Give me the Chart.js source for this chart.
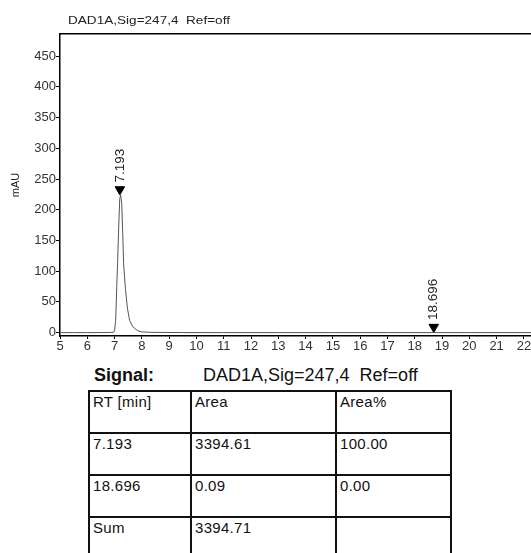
<!DOCTYPE html>
<html>
<head>
<meta charset="utf-8">
<script src="https://cdn.jsdelivr.net/npm/chart.js@4.4.0/dist/chart.umd.min.js"></script>
<style>
    html, body { margin: 0; padding: 0; background: #fff; width: 531px; height: 553px; overflow: hidden; font-family: "Liberation Sans", Arial, sans-serif; }
    #wrap { position: absolute; left: 0; top: 0; width: 531px; height: 360px; }
    #title { position: absolute; left: 68px; top: 14px; font-size: 11.5px; color: #222; white-space: pre; transform: scaleX(1.18); transform-origin: left top; }
    #signal { position: absolute; left: 94px; top: 365px; font-size: 18px; color: #111; white-space: pre; }
    #signal b { display: inline-block; width: 109px; }
    #tbl { position: absolute; left: 88px; top: 390px; border-collapse: collapse; font-size: 15px; letter-spacing: 0.3px; color: #111; }
    #tbl td { border: 2px solid #111; height: 42px; vertical-align: top; padding: 1px 3px; box-sizing: border-box; }
</style>
</head>
<body>
<div id="wrap"><canvas id="chrom"></canvas></div>
<div id="title"></div>
<div id="signal"></div>
<table id="tbl"></table>
<script>
const signalName = "DAD1A,Sig=247,4  Ref=off";
const yTitle = "mAU";

// chromatogram trace (time in min, absorbance in mAU)
const traceTime = [5, 5.5, 6, 6.5, 6.9, 6.97, 7.0, 7.04, 7.08, 7.11, 7.15, 7.19, 7.22, 7.26, 7.3, 7.33, 7.4, 7.47, 7.55, 7.65, 7.73, 7.85, 8.0, 8.3, 8.7, 9.5, 11, 13, 15, 17, 18.6, 18.7, 18.8, 20, 22.3];
const traceMAU  = [0, 0, 0, 0.1, 0.3, 0.8, 3, 20, 75, 113, 170, 218, 224, 212, 160, 113, 70, 40, 20, 11, 7, 3, 1.2, 0.5, 0.3, 0.1, 0, 0, 0, 0, 0, 0.15, 0, 0, 0];

// integrated peaks
const peakRT     = [7.193, 18.696];
const peakMarkY  = [233, 9];
const peakLabels = ["7.193", "18.696"];

// axis ticks
const xTicks = [5, 6, 7, 8, 9, 10, 11, 12, 13, 14, 15, 16, 17, 18, 19, 20, 21, 22];
const yTicks = [0, 50, 100, 150, 200, 250, 300, 350, 400, 450];

// report table
const tableHead = ["RT [min]", "Area", "Area%"];
const tableRT   = ["7.193", "18.696", "Sum"];
const tableArea = ["3394.61", "0.09", "3394.71"];
const tablePct  = ["100.00", "0.00", ""];

document.getElementById('title').innerText = signalName;
document.getElementById('signal').innerHTML = "<b>Signal:</b>" + signalName;

const tbl = document.getElementById('tbl');
const colW = [102, 145, 115];
function addRow(cells) {
    const tr = document.createElement('tr');
    cells.forEach((c, i) => {
        const td = document.createElement('td');
        td.style.width = colW[i] + 'px';
        td.innerText = c;
        tr.appendChild(td);
    });
    tbl.appendChild(tr);
}
addRow(tableHead);
tableRT.forEach((rt, i) => addRow([rt, tableArea[i], tablePct[i]]));
addRow(["", "", ""]);

const peakLabelPlugin = {
    id: 'peakLabels',
    afterDatasetsDraw(chart) {
        const meta = chart.getDatasetMeta(1);
        const ctx = chart.ctx;
        ctx.save();
        ctx.font = '13.5px "Liberation Sans", Arial, sans-serif';
        ctx.fillStyle = '#222';
        ctx.textAlign = 'left';
        ctx.textBaseline = 'middle';
        meta.data.forEach((pt, i) => {
            ctx.save();
            ctx.translate(pt.x, pt.y - 7);
            ctx.rotate(-Math.PI / 2);
            ctx.fillText(peakLabels[i], 0, 0);
            ctx.restore();
        });
        ctx.restore();
    }
};

const tickFont = { family: '"Liberation Sans", Arial, sans-serif', size: 13 };

new Chart(document.getElementById('chrom'), {
    type: 'scatter',
    data: {
        datasets: [
            {
                data: traceTime.map((t, i) => ({ x: t, y: traceMAU[i] })),
                showLine: true,
                borderColor: '#555',
                borderWidth: 1,
                pointRadius: 0,
                tension: 0
            },
            {
                data: peakRT.map((t, i) => ({ x: t, y: peakMarkY[i] })),
                pointStyle: 'triangle',
                rotation: 180,
                radius: 5.5,
                backgroundColor: '#000',
                borderColor: '#000',
                borderWidth: 1
            }
        ]
    },
    options: {
        responsive: true,
        maintainAspectRatio: false,
        animation: false,
        layout: { autoPadding: false, padding: { top: 34, right: 0, left: 0, bottom: 0 } },
        plugins: { legend: { display: false }, tooltip: { enabled: false } },
        scales: {
            x: {
                type: 'linear', min: 5, max: 22.26,
                afterBuildTicks: s => { s.ticks = xTicks.map(v => ({ value: v })); },
                afterFit: s => { s.height = 24; s.paddingLeft = 0; s.paddingRight = 0; },
                grid: { drawOnChartArea: false, drawTicks: true, tickLength: 3, color: '#000' },
                border: { color: '#000', width: 1.5 },
                ticks: { color: '#333', font: tickFont, padding: 0, maxRotation: 0, autoSkip: false }
            },
            xTop: {
                type: 'linear', position: 'top', min: 5, max: 22.26,
                afterFit: s => { s.height = 0; s.paddingLeft = 0; s.paddingRight = 0; },
                grid: { drawOnChartArea: false, drawTicks: false },
                border: { color: '#000', width: 1.5 },
                ticks: { display: false }
            },
            y: {
                min: -5.5, max: 486,
                afterBuildTicks: s => { s.ticks = yTicks.map(v => ({ value: v })); },
                afterFit: s => { s.width = 60; },
                grid: { drawOnChartArea: false, drawTicks: true, tickLength: 4, color: '#000' },
                border: { color: '#000', width: 1.5 },
                ticks: { color: '#333', font: tickFont, padding: 0 },
                title: { display: true, text: yTitle, color: '#222', font: { family: tickFont.family, size: 11 }, padding: { top: 9, bottom: 0 } }
            }
        }
    },
    plugins: [peakLabelPlugin]
});
</script>
</body>
</html>
